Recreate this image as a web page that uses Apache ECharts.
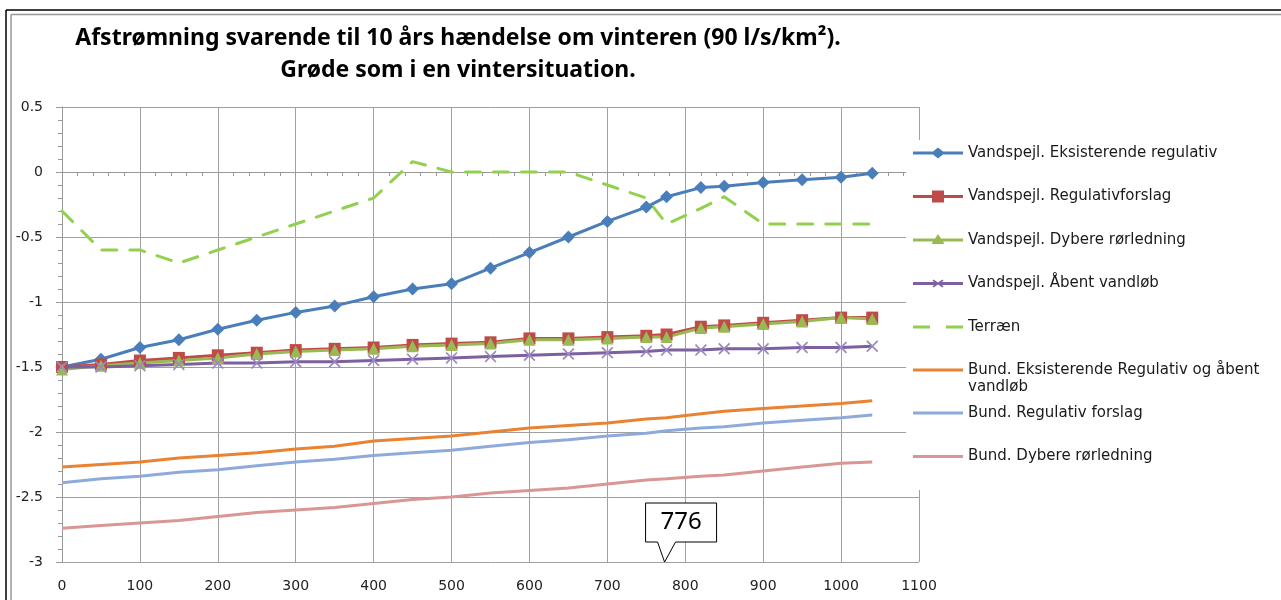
<!DOCTYPE html>
<html>
<head>
<meta charset="utf-8">
<style>
html,body{margin:0;padding:0;background:#fff;}
#chart{width:1281px;height:600px;}
</style>
<script src="https://cdn.jsdelivr.net/npm/echarts@6/dist/echarts.min.js"></script>
</head>
<body>
<div id="chart"></div>
<script>
// ---- data ----
const titleLines = ['Afstrømning svarende til 10 års hændelse om vinteren (90 l/s/km²).', 'Grøde som i en vintersituation.'];
const xValues = [0,50,100,150,200,250,300,350,400,450,500,550,600,650,700,750,776,820,850,900,950,1000,1040];
const seriesNames = [
  'Vandspejl. Eksisterende regulativ',
  'Vandspejl. Regulativforslag',
  'Vandspejl. Dybere rørledning',
  'Vandspejl. Åbent vandløb',
  'Terræn',
  'Bund. Eksisterende Regulativ og åbent vandløb',
  'Bund. Regulativ forslag',
  'Bund. Dybere rørledning'
];
const eksisterende = [-1.50,-1.44,-1.35,-1.29,-1.21,-1.14,-1.08,-1.03,-0.96,-0.90,-0.86,-0.74,-0.62,-0.50,-0.38,-0.27,-0.19,-0.12,-0.11,-0.08,-0.06,-0.04,-0.01];
const regulativforslag = [-1.50,-1.48,-1.45,-1.43,-1.41,-1.39,-1.37,-1.36,-1.35,-1.33,-1.32,-1.31,-1.28,-1.28,-1.27,-1.26,-1.25,-1.19,-1.18,-1.16,-1.14,-1.12,-1.12];
const dybere = [-1.52,-1.49,-1.47,-1.45,-1.43,-1.40,-1.38,-1.37,-1.36,-1.34,-1.33,-1.32,-1.29,-1.29,-1.28,-1.27,-1.27,-1.20,-1.19,-1.17,-1.15,-1.12,-1.13];
const aabent = [-1.50,-1.50,-1.49,-1.48,-1.47,-1.47,-1.46,-1.46,-1.45,-1.44,-1.43,-1.42,-1.41,-1.40,-1.39,-1.38,-1.37,-1.37,-1.36,-1.36,-1.35,-1.35,-1.34];
const terraen = [-0.30,-0.60,-0.60,-0.70,-0.60,-0.50,-0.40,-0.30,-0.20,0.08,0.00,0.00,0.00,0.00,-0.10,-0.20,-0.40,-0.28,-0.19,-0.40,-0.40,-0.40,-0.40];
const bundEks = [-2.27,-2.25,-2.23,-2.20,-2.18,-2.16,-2.13,-2.11,-2.07,-2.05,-2.03,-2.00,-1.97,-1.95,-1.93,-1.90,-1.89,-1.86,-1.84,-1.82,-1.80,-1.78,-1.76];
const bundReg = [-2.39,-2.36,-2.34,-2.31,-2.29,-2.26,-2.23,-2.21,-2.18,-2.16,-2.14,-2.11,-2.08,-2.06,-2.03,-2.01,-1.99,-1.97,-1.96,-1.93,-1.91,-1.89,-1.87];
const bundDyb = [-2.74,-2.72,-2.70,-2.68,-2.65,-2.62,-2.60,-2.58,-2.55,-2.52,-2.50,-2.47,-2.45,-2.43,-2.40,-2.37,-2.36,-2.34,-2.33,-2.30,-2.27,-2.24,-2.23];
const calloutX = 776;
const calloutLabel = '776';

// ---- chart ----
const pairs = v => xValues.map((x, i) => [x, v[i]]);
const xSym = 'path://M0,1 L1,0 L5,4 L9,0 L10,1 L6,5 L10,9 L9,10 L5,6 L1,10 L0,9 L4,5 Z';

// legend icons (line + marker), drawn in a 50 x 12 box
const icDiamond = 'path://M0,4.6 L20,4.6 L25,0.5 L30,4.6 L50,4.6 L50,7.4 L30,7.4 L25,11.5 L20,7.4 L0,7.4 Z';
const icSquare = 'path://M0,4.6 L19,4.6 L19,0 L31,0 L31,4.6 L50,4.6 L50,7.4 L31,7.4 L31,12 L19,12 L19,7.4 L0,7.4 Z';
const icTriangle = 'path://M0,4.6 L22,4.6 L25,0 L28,4.6 L50,4.6 L50,7.4 L30,7.4 L31.5,10 L18.5,10 L20,7.4 L0,7.4 Z M0,0 L0,0.01 Z M50,12 L50,11.99 Z';
const icCross = 'path://M0,4.6 L21,4.6 L19.5,3 L20.5,2 L25,5 L29.5,2 L30.5,3 L29,4.6 L50,4.6 L50,7.4 L29,7.4 L30.5,9 L29.5,10 L25,7 L20.5,10 L19.5,9 L21,7.4 L0,7.4 Z M0,0 L0,0.01 Z M50,12 L50,11.99 Z';
const icDash = 'path://M0,0 L17,0 L17,3 L0,3 Z M33,0 L50,0 L50,3 L33,3 Z';
const icLine = 'path://M0,0 L50,0 L50,3 L0,3 Z';

const chart = echarts.init(document.getElementById('chart'), null, {renderer: 'canvas'});
const legendText = {fontFamily: 'DejaVu Sans', fontSize: 15, color: '#1a1a1a', lineHeight: 17};
const legendCommon = {orient: 'vertical', left: 913, padding: 0, z: 10, itemWidth: 50, itemHeight: 14, itemGap: 26.5,
  symbolKeepAspect: true, textStyle: legendText};

const option = {
  backgroundColor: '#fff',
  animation: false,
  title: {
    text: titleLines.join('\n'),
    left: 453, top: 17, textAlign: 'center',
    textStyle: {fontFamily: 'Noto Sans', fontWeight: 'bold', fontSize: 23, color: '#000', lineHeight: 32}
  },
  grid: {left: 62, right: 362, top: 107, bottom: 38, containLabel: false},
  xAxis: {
    type: 'value', min: 0, max: 1100, interval: 100,
    axisLine: {lineStyle: {color: '#999', width: 1}},
    axisTick: {show: true, inside: false, length: 5, lineStyle: {color: '#999'}},
    minorTick: {show: true, splitNumber: 5, length: 4, lineStyle: {color: '#999'}},
    splitLine: {show: true, lineStyle: {color: '#a0a0a0', width: 1}},
    axisLabel: {fontFamily: 'DejaVu Sans', fontSize: 14, color: '#222', margin: 17, formatter: v => String(v)}
  },
  yAxis: {
    type: 'value', min: -3, max: 0.5, interval: 0.5,
    axisLine: {show: true, lineStyle: {color: '#999', width: 1}},
    axisTick: {show: true, inside: false, length: 6, lineStyle: {color: '#999'}},
    minorTick: {show: true, splitNumber: 5, length: 4, lineStyle: {color: '#999'}},
    splitLine: {show: true, lineStyle: {color: '#a0a0a0', width: 1}},
    axisLabel: {fontFamily: 'DejaVu Sans', fontSize: 14, color: '#222', margin: 19}
  },
  legend: [
    Object.assign({}, legendCommon, {
      top: 144.5,
      data: [
        {name: seriesNames[0], icon: icDiamond},
        {name: seriesNames[1], icon: icSquare},
        {name: seriesNames[2], icon: icTriangle},
        {name: seriesNames[3], icon: icCross, itemStyle: {color: '#7d60a0'}},
        {name: seriesNames[4], icon: icDash}
      ]
    }),
    Object.assign({}, legendCommon, {
      top: 344.5,
      data: [{name: seriesNames[5], icon: icLine}],
      formatter: n => '\n' + n.replace(' vandløb', '\nvandløb')
    }),
    Object.assign({}, legendCommon, {
      top: 404.5,
      data: [{name: seriesNames[6], icon: icLine}, {name: seriesNames[7], icon: icLine}]
    })
  ],
  graphic: [
    {type: 'rect', z: 5, shape: {x: 906, y: 140, width: 375, height: 350}, style: {fill: '#fff'}},
    {type: 'line', z: 6, shape: {x1: 6, y1: 10, x2: 1281, y2: 10}, style: {stroke: '#000', lineWidth: 1.5}},
    {type: 'line', z: 6, shape: {x1: 6, y1: 10, x2: 6, y2: 600}, style: {stroke: '#000', lineWidth: 1.5}},
    {type: 'line', z: 6, shape: {x1: 11, y1: 14.5, x2: 1281, y2: 14.5}, style: {stroke: '#999', lineWidth: 1.5}},
    {type: 'line', z: 6, shape: {x1: 11, y1: 14.5, x2: 11, y2: 600}, style: {stroke: '#999', lineWidth: 1.5}}
  ],
  series: [
    {name: seriesNames[0], type: 'line', data: pairs(eksisterende), symbol: 'diamond', symbolSize: 13,
      lineStyle: {color: '#4a7ebb', width: 3}, itemStyle: {color: '#4a7ebb'}},
    {name: seriesNames[1], type: 'line', data: pairs(regulativforslag), symbol: 'rect', symbolSize: 12,
      lineStyle: {color: '#be4b48', width: 3}, itemStyle: {color: '#be4b48'}},
    {name: seriesNames[2], type: 'line', data: pairs(dybere), symbol: 'triangle', symbolSize: 12,
      lineStyle: {color: '#98b954', width: 3}, itemStyle: {color: '#98b954'}},
    {name: seriesNames[3], type: 'line', data: pairs(aabent), symbol: xSym, symbolSize: 12,
      lineStyle: {color: '#7d60a0', width: 3}, itemStyle: {color: '#9c88c0'}},
    {name: seriesNames[4], type: 'line', data: pairs(terraen), showSymbol: false, symbol: 'none',
      lineStyle: {color: '#92d050', width: 3, type: [15, 13], cap: 'round'}, itemStyle: {color: '#92d050'}},
    {name: seriesNames[5], type: 'line', data: pairs(bundEks), showSymbol: false, symbol: 'none',
      lineStyle: {color: '#e98331', width: 3}, itemStyle: {color: '#e98331'}},
    {name: seriesNames[6], type: 'line', data: pairs(bundReg), showSymbol: false, symbol: 'none',
      lineStyle: {color: '#8eaadb', width: 3}, itemStyle: {color: '#8eaadb'}},
    {name: seriesNames[7], type: 'line', data: pairs(bundDyb), showSymbol: false, symbol: 'none',
      lineStyle: {color: '#d99694', width: 3}, itemStyle: {color: '#d99694'}}
  ]
};
chart.setOption(option);

// callout box pointing at x = 776 on the x axis
const tip = chart.convertToPixel({xAxisIndex: 0, yAxisIndex: 0}, [calloutX, -3]);
const tx = tip[0] - 2, ty = tip[1];
const L = tx - 19, R = tx + 52, T = ty - 59, B = ty - 20;
chart.setOption({
  graphic: option.graphic.concat([
    {type: 'polygon', z: 20, shape: {points: [[L, T], [R, T], [R, B], [tx + 11, B], [tx, ty], [tx - 7, B], [L, B]]},
      style: {fill: '#fff', stroke: '#000', lineWidth: 1}},
    {type: 'text', z: 21, style: {text: calloutLabel, x: (L + R) / 2, y: (T + B) / 2, align: 'center', verticalAlign: 'middle',
      fontFamily: 'Noto Sans', fontSize: 24, fill: '#000'}}
  ])
});
</script>
</body>
</html>
